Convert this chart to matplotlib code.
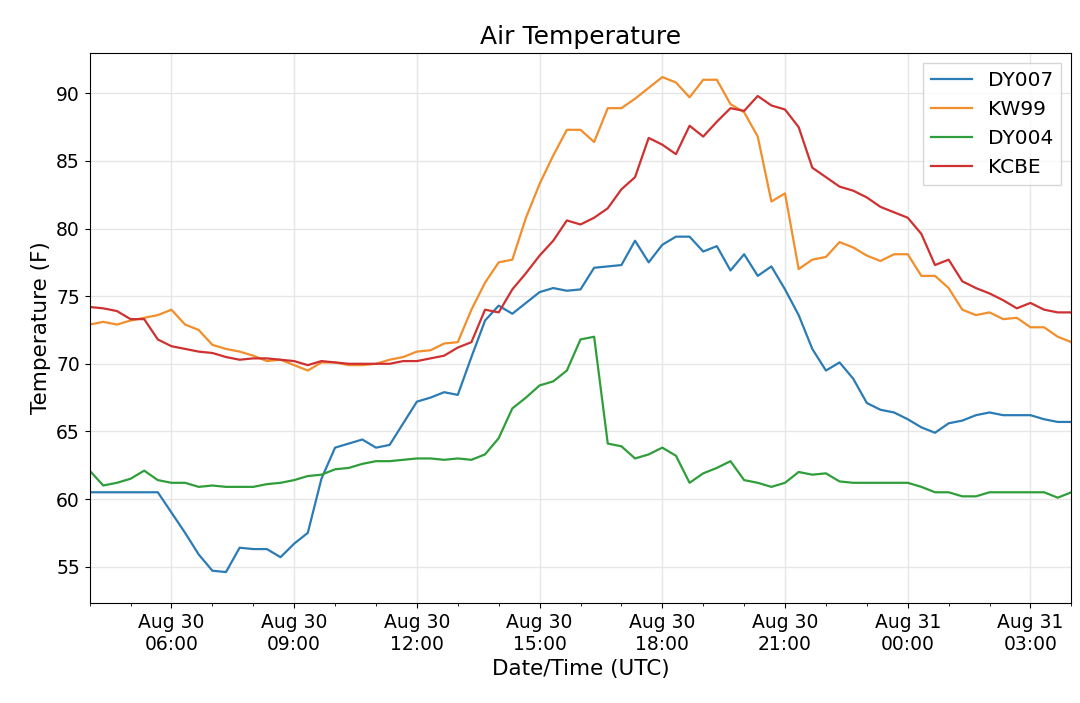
import numpy as np
import pandas as pd
import matplotlib
matplotlib.use("Agg")
import matplotlib.pyplot as plt
import matplotlib.dates as mdates

# 20-minute readings starting Aug 30 04:00 UTC
dy007 = [60.5, 60.5, 60.5, 60.5, 60.5, 60.5, 59.0, 57.5, 55.9, 54.7, 54.6, 56.4,
         56.3, 56.3, 55.7, 56.7, 57.5, 61.5, 63.8, 64.1, 64.4, 63.8, 64.0, 65.6,
         67.2, 67.5, 67.9, 67.7, 70.5, 73.2, 74.3, 73.7, 74.5, 75.3, 75.6, 75.4,
         75.5, 77.1, 77.2, 77.3, 79.1, 77.5, 78.8, 79.4, 79.4, 78.3, 78.7, 76.9,
         78.1, 76.5, 77.2, 75.5, 73.6, 71.1, 69.5, 70.1, 68.9, 67.1, 66.6, 66.4,
         65.9, 65.3, 64.9, 65.6, 65.8, 66.2, 66.4, 66.2, 66.2, 66.2, 65.9, 65.7, 65.7]
kw99 = [72.9, 73.1, 72.9, 73.2, 73.4, 73.6, 74.0, 72.9, 72.5, 71.4, 71.1, 70.9,
        70.6, 70.2, 70.3, 69.9, 69.5, 70.1, 70.1, 69.9, 69.9, 70.0, 70.3, 70.5,
        70.9, 71.0, 71.5, 71.6, 74.0, 76.0, 77.5, 77.7, 80.8, 83.3, 85.4, 87.3,
        87.3, 86.4, 88.9, 88.9, 89.6, 90.4, 91.2, 90.8, 89.7, 91.0, 91.0, 89.2,
        88.6, 86.8, 82.0, 82.6, 77.0, 77.7, 77.9, 79.0, 78.6, 78.0, 77.6, 78.1,
        78.1, 76.5, 76.5, 75.6, 74.0, 73.6, 73.8, 73.3, 73.4, 72.7, 72.7, 72.0, 71.6]
dy004 = [62.1, 61.0, 61.2, 61.5, 62.1, 61.4, 61.2, 61.2, 60.9, 61.0, 60.9, 60.9,
         60.9, 61.1, 61.2, 61.4, 61.7, 61.8, 62.2, 62.3, 62.6, 62.8, 62.8, 62.9,
         63.0, 63.0, 62.9, 63.0, 62.9, 63.3, 64.5, 66.7, 67.5, 68.4, 68.7, 69.5,
         71.8, 72.0, 64.1, 63.9, 63.0, 63.3, 63.8, 63.2, 61.2, 61.9, 62.3, 62.8,
         61.4, 61.2, 60.9, 61.2, 62.0, 61.8, 61.9, 61.3, 61.2, 61.2, 61.2, 61.2,
         61.2, 60.9, 60.5, 60.5, 60.2, 60.2, 60.5, 60.5, 60.5, 60.5, 60.5, 60.1, 60.5]
kcbe = [74.2, 74.1, 73.9, 73.3, 73.3, 71.8, 71.3, 71.1, 70.9, 70.8, 70.5, 70.3,
        70.4, 70.4, 70.3, 70.2, 69.9, 70.2, 70.1, 70.0, 70.0, 70.0, 70.0, 70.2,
        70.2, 70.4, 70.6, 71.2, 71.6, 74.0, 73.8, 75.5, 76.7, 78.0, 79.1, 80.6,
        80.3, 80.8, 81.5, 82.9, 83.8, 86.7, 86.2, 85.5, 87.6, 86.8, 87.9, 88.9,
        88.7, 89.8, 89.1, 88.8, 87.5, 84.5, 83.8, 83.1, 82.8, 82.3, 81.6, 81.2,
        80.8, 79.6, 77.3, 77.7, 76.1, 75.6, 75.2, 74.7, 74.1, 74.5, 74.0, 73.8, 73.8]

times = pd.date_range("2023-08-30 04:00", periods=len(dy007), freq="20min")

fig = plt.figure(figsize=(10.8, 7.03), dpi=100)
ax = fig.add_axes([0.083, 0.142, 0.909, 0.783])
ax.plot(times, dy007, color="#2b7bb4", label="DY007", lw=1.6)
ax.plot(times, kw99, color="#f28e2b", label="KW99", lw=1.6)
ax.plot(times, dy004, color="#2f9e3a", label="DY004", lw=1.6)
ax.plot(times, kcbe, color="#cf3030", label="KCBE", lw=1.6)

ax.set_xlim(pd.Timestamp("2023-08-30 04:00"), pd.Timestamp("2023-08-31 04:00"))
ax.set_ylim(52.3, 93.0)
ax.xaxis.set_major_locator(mdates.HourLocator(byhour=[0, 3, 6, 9, 12, 15, 18, 21]))
ax.xaxis.set_minor_locator(mdates.HourLocator())
ax.xaxis.set_major_formatter(mdates.DateFormatter("%b %d\n%H:%M"))
ax.grid(True, color="#e6e6e6", lw=1)
ax.tick_params(labelsize=13.5)
ax.set_title("Air Temperature", fontsize=18)
ax.set_xlabel("Date/Time (UTC)", fontsize=15.5)
ax.set_ylabel("Temperature (F)", fontsize=15.5)
ax.legend(loc="upper right", fontsize=14.5, fancybox=False, edgecolor="#cccccc")
fig.savefig("out.png", dpi=100)
